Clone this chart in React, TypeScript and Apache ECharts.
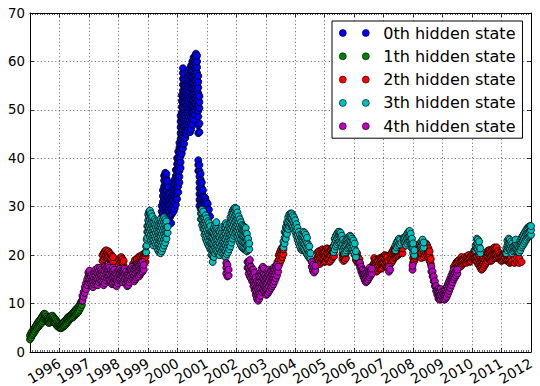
import React, { useEffect, useRef } from 'react';
import * as echarts from 'echarts';

// ---- data ----
// each column: [year, value, value, ...]  -> points at that year
const stateNames = ['0th hidden state', '1th hidden state', '2th hidden state', '3th hidden state', '4th hidden state'];
const stateColors = ['#0000ff', '#008000', '#ff0000', '#00bfbf', '#bf00bf'];
const xMin = 1995;
const xMax = 2012;
const yMin = 0;
const yMax = 70;
const hiddenXLabel = '1995';

const state0Blue: number[][] = [
  [1999.47, 27.8, 29.0, 30.2],
  [1999.51, 28.6, 29.8, 31.0, 32.2, 33.4],
  [1999.55, 29.4, 30.6, 31.8, 33.0, 34.2, 35.4, 36.4],
  [1999.59, 29.0, 30.2, 31.4, 32.6, 33.8, 35.0, 36.2, 37.0],
  [1999.63, 28.6, 29.8, 31.0, 32.2, 33.4, 34.6, 35.8, 36.8],
  [1999.67, 28.2, 29.4, 30.6, 31.8, 33.0, 34.2, 35.2],
  [1999.71, 28.0, 29.2, 30.4, 31.6, 32.8, 34.0],
  [1999.75, 27.8, 29.0, 30.2, 31.4, 32.6],
  [1999.79, 26.6, 28.4, 29.6, 30.8, 32.0],
  [1999.83, 28.6, 29.8, 31.0, 32.2, 33.4],
  [1999.87, 29.0, 30.2, 31.4, 32.6, 33.8, 35.0],
  [1999.91, 29.6, 30.8, 32.0, 33.2, 34.4, 35.6],
  [1999.95, 30.4, 31.6, 32.8, 34.0, 35.2, 36.4, 37.6],
  [1999.99, 31.6, 32.8, 34.0, 35.2, 36.4, 37.6, 38.8, 40.0],
  [2000.03, 33.0, 34.2, 35.4, 36.6, 37.8, 39.0, 40.2, 41.4],
  [2000.07, 35.0, 36.2, 37.4, 38.6, 39.8, 41.0, 42.2, 43.2],
  [2000.11, 38.0, 39.2, 40.4, 41.6, 42.8, 44.0, 45.2, 46.4, 47.6, 48.8],
  [2000.15, 41.0, 42.2, 43.4, 44.6, 45.8, 47.0, 48.2, 49.4, 50.6, 51.8, 53.0],
  [2000.19, 42.0, 43.2, 44.4, 45.6, 46.8, 48.0, 49.2, 50.4, 51.6, 52.8, 54.0, 55.2, 56.4, 57.6, 58.6],
  [2000.23, 43.0, 44.2, 45.4, 46.6, 47.8, 49.0, 50.2, 51.4, 52.6, 53.8, 55.0, 56.2, 57.4],
  [2000.27, 44.2, 45.4, 46.6, 47.8, 49.0, 50.2, 51.4, 52.6, 53.8, 55.0],
  [2000.31, 45.0, 46.2, 47.4, 48.6, 49.8, 51.0, 52.2, 53.4, 54.6, 55.8],
  [2000.35, 45.6, 46.8, 48.0, 49.2, 50.4, 51.6, 52.8, 54.0, 55.2, 56.4, 57.4],
  [2000.39, 46.2, 47.4, 48.6, 49.8, 51.0, 52.2, 53.4, 54.6, 55.8, 57.0, 58.2],
  [2000.43, 45.4, 46.6, 47.8, 49.0, 50.2, 51.4, 52.6, 53.8, 55.0, 56.2, 57.4, 58.6],
  [2000.47, 46.0, 47.2, 48.4, 49.6, 50.8, 52.0, 53.2, 54.4, 55.6, 56.8, 58.0, 59.2],
  [2000.51, 47.0, 48.2, 49.4, 50.6, 51.8, 53.0, 54.2, 55.4, 56.6, 57.8, 59.0, 60.0],
  [2000.55, 48.0, 49.2, 50.4, 51.6, 52.8, 54.0, 55.2, 56.4, 57.6, 58.8, 60.0, 60.8],
  [2000.59, 49.0, 50.2, 51.4, 52.6, 53.8, 55.0, 56.2, 57.4, 58.6, 59.8, 61.0],
  [2000.63, 50.0, 51.2, 52.4, 53.6, 54.8, 56.0, 57.2, 58.4, 59.6, 60.8, 61.6],
  [2000.67, 50.4, 51.6, 52.8, 54.0, 55.2, 56.4, 57.6, 58.8, 60.0, 61.2],
  [2000.71, 45.2, 46.8, 48.6, 49.8, 51.0, 52.2, 53.4, 54.6, 55.8, 57.0],
  [2000.75, 45.4, 47.2, 50.4, 51.6, 52.8],
  [2000.71, 37.4, 38.6, 39.6],
  [2000.75, 30.2, 31.4, 32.6, 33.8, 35.0, 36.2, 37.4, 38.6],
  [2000.79, 29.6, 30.8, 32.0, 33.2, 34.4, 35.6, 36.8],
  [2000.83, 29.0, 30.2, 31.4, 32.6, 33.8, 35.0],
  [2000.87, 28.6, 29.8, 31.0, 32.2, 33.4],
  [2000.91, 28.4, 29.6, 30.8, 32.0],
  [2000.95, 28.4, 29.6, 30.8, 31.8],
  [2000.99, 28.6, 29.8, 31.0],
  [2001.03, 28.4, 29.6, 30.6],
  [2001.07, 28.2, 29.4],
  [2001.11, 28.0],
];

const state1Green: number[][] = [
  [1995.00, 2.6, 3.4], [1995.04, 3.0, 3.9], [1995.08, 3.5, 4.3], [1995.12, 3.8, 4.7],
  [1995.16, 4.2, 5.0], [1995.20, 4.6, 5.4], [1995.24, 4.9, 5.8], [1995.28, 5.2, 6.2],
  [1995.32, 5.5, 6.5], [1995.36, 5.8, 6.8], [1995.40, 6.0, 7.2], [1995.44, 6.4, 7.6],
  [1995.48, 6.8, 7.9], [1995.52, 6.9, 7.8], [1995.56, 6.5, 7.3], [1995.60, 6.2, 7.0],
  [1995.64, 6.0, 6.8], [1995.68, 6.1, 7.1], [1995.72, 6.4, 7.4], [1995.76, 6.6, 7.5],
  [1995.80, 6.3, 7.2], [1995.84, 6.0, 6.9], [1995.88, 5.7, 6.6], [1995.92, 5.4, 6.3],
  [1995.96, 5.2, 6.0], [1996.00, 5.0, 5.8], [1996.04, 4.9, 5.6], [1996.08, 5.0, 5.8],
  [1996.12, 5.2, 6.0], [1996.16, 5.4, 6.2], [1996.20, 5.6, 6.5], [1996.24, 5.9, 6.8],
  [1996.28, 6.2, 7.1], [1996.32, 6.5, 7.3], [1996.36, 6.8, 7.5], [1996.40, 7.0, 7.7],
  [1996.44, 7.1, 7.9], [1996.48, 7.3, 8.2], [1996.52, 7.6, 8.5], [1996.56, 7.8, 8.8],
  [1996.60, 8.0, 9.0], [1996.64, 8.3, 9.3], [1996.68, 8.7, 9.7], [1996.72, 9.2, 10.2],
  [1996.76, 9.7, 10.6],
];

const state2Red: number[][] = [
  [1997.46, 18.8, 20.0], [1997.50, 19.2, 20.4], [1997.54, 19.6, 20.8], [1997.58, 19.8, 21.0],
  [1997.62, 19.4, 20.6], [1997.66, 19.6, 20.8], [1997.70, 19.2, 20.4], [1997.74, 19.0, 20.2],
  [1997.78, 18.8, 19.8], [1997.82, 18.6, 19.6],
  [1998.02, 18.0, 19.0], [1998.06, 18.4, 19.4], [1998.10, 18.8, 19.6], [1998.14, 18.2, 19.2],
  [1998.18, 17.8, 18.8],
  [1998.50, 18.2], [1998.56, 18.0, 19.0], [1998.62, 18.4, 19.2], [1998.68, 18.6, 19.6],
  [1998.74, 18.8, 19.8], [1998.80, 19.0, 20.0], [1998.84, 18.8, 19.6], [1998.88, 18.6, 19.6, 20.4],
  [1998.92, 18.6, 19.6, 20.4],
  [2003.36, 16.8, 18.0], [2003.40, 17.4, 18.6], [2003.44, 17.8, 19.0, 20.0], [2003.48, 18.4, 19.6, 20.6],
  [2003.52, 19.0, 20.2, 21.2], [2003.56, 19.6, 20.8, 21.6], [2003.60, 20.2, 21.2],
  [2004.72, 17.8, 19.0], [2004.76, 18.4, 19.6, 20.6], [2004.80, 18.6, 19.8, 20.8], [2004.84, 18.2, 19.4, 20.4],
  [2004.88, 18.6, 19.8, 21.0], [2004.92, 19.0, 20.2, 21.2], [2004.96, 18.8, 20.0, 21.0], [2005.00, 18.6, 19.8, 20.8],
  [2005.04, 18.8, 20.0, 21.2], [2005.08, 19.2, 20.4, 21.4], [2005.12, 19.0, 20.2, 21.2], [2005.16, 18.6, 19.8, 20.8],
  [2005.20, 18.8, 20.0, 21.0], [2005.24, 19.2, 20.4, 21.4], [2005.28, 19.6, 20.6, 21.6], [2005.32, 19.8, 20.8],
  [2005.60, 19.2, 20.2], [2005.64, 18.8, 19.8], [2005.68, 19.0, 20.0], [2005.72, 19.4, 20.4],
  [2006.06, 19.0, 20.0], [2006.10, 18.6, 19.6, 20.4], [2006.14, 18.4, 19.4], [2006.18, 18.2, 19.2],
  [2006.64, 17.0, 18.0], [2006.68, 17.4, 18.4, 19.4], [2006.72, 17.0, 18.0, 19.0], [2006.76, 16.6, 17.6, 18.6],
  [2006.80, 16.8, 17.8, 18.8], [2006.84, 17.2, 18.2, 19.2], [2006.88, 17.4, 18.4, 19.4], [2006.92, 17.2, 18.2, 19.4],
  [2006.96, 17.4, 18.4, 19.6], [2007.00, 17.8, 18.8, 19.8], [2007.04, 18.0, 19.0, 20.0], [2007.08, 17.8, 18.8, 19.8],
  [2007.12, 17.6, 18.6, 19.6], [2007.16, 17.8, 18.8], [2007.24, 18.2, 19.2, 20.2], [2007.28, 18.6, 19.6, 20.6],
  [2007.32, 19.0, 20.0, 21.0], [2007.36, 19.4, 20.4, 21.4], [2007.40, 19.6, 20.6, 21.6], [2007.44, 19.8, 20.8, 21.8],
  [2007.48, 20.0, 21.0, 22.0], [2007.52, 20.2, 21.2], [2007.56, 20.4, 21.4], [2007.60, 20.6, 21.6],
  [2007.64, 20.4, 21.4],
  [2008.00, 18.4, 19.4], [2008.04, 18.8, 19.8], [2008.08, 19.4, 20.4, 21.4], [2008.12, 19.8, 20.8, 21.8],
  [2008.16, 20.2, 21.2, 22.2], [2008.20, 20.0, 21.0, 22.0], [2008.24, 19.6, 20.6, 21.6], [2008.28, 19.4, 20.4],
  [2008.36, 19.6, 20.6], [2008.40, 20.0, 21.0, 22.0], [2008.44, 20.4, 21.4, 22.4], [2008.48, 20.0, 21.0, 22.0],
  [2008.52, 19.4, 20.4, 21.4], [2008.56, 18.8, 19.8, 20.8], [2008.60, 18.2, 19.2],
  [2009.38, 17.6], [2009.44, 17.4, 18.2], [2009.48, 17.6, 18.6], [2009.52, 17.8, 18.8],
  [2009.56, 18.0, 19.0], [2009.60, 17.6, 18.6], [2009.64, 17.8, 18.8, 19.6], [2009.68, 18.2, 19.2],
  [2009.72, 18.4, 19.4], [2009.76, 18.6, 19.6], [2009.80, 18.4, 19.4], [2009.84, 18.8, 19.8],
  [2009.88, 19.0, 20.0], [2009.92, 18.6, 19.6], [2009.96, 18.8, 19.8], [2010.00, 19.2, 20.2],
  [2010.04, 19.4, 20.4], [2010.08, 19.2, 20.2, 21.0], [2010.12, 19.0, 20.0], [2010.16, 18.8, 19.8],
  [2010.20, 18.2, 19.2, 20.2], [2010.24, 18.0, 19.0, 20.0], [2010.28, 17.4, 18.4, 19.4], [2010.32, 17.0, 18.0, 19.0],
  [2010.36, 17.2, 18.2, 19.2], [2010.40, 17.6, 18.6, 19.6], [2010.44, 18.0, 19.0, 20.0], [2010.48, 18.4, 19.4, 20.4],
  [2010.52, 18.8, 19.8, 20.8], [2010.56, 19.2, 20.2, 21.0], [2010.60, 19.0, 20.0, 21.0], [2010.64, 18.8, 19.8, 20.8],
  [2010.68, 19.0, 20.0, 21.0], [2010.72, 19.4, 20.4, 21.4], [2010.76, 19.6, 20.6, 21.6], [2010.80, 19.4, 20.4, 21.4],
  [2010.84, 19.6, 20.6, 21.6], [2010.88, 19.8, 20.8], [2010.92, 19.4, 20.4], [2010.96, 19.0, 20.0],
  [2011.00, 18.8, 19.8], [2011.04, 19.0, 20.0], [2011.08, 19.2, 20.2], [2011.12, 19.4, 20.4],
  [2011.16, 19.0, 20.0], [2011.20, 18.8, 19.8], [2011.24, 18.6, 19.6], [2011.28, 18.4, 19.4],
  [2011.32, 18.6, 19.6], [2011.36, 18.8], [2011.44, 18.4, 19.4], [2011.52, 18.6, 19.6],
  [2011.60, 18.4, 19.4], [2011.68, 18.6],
];

const state3Cyan: number[][] = [
  [1998.94, 20.6, 21.8], [1998.96, 22.0, 23.2], [1998.98, 23.6, 24.8, 26.0],
  [1999.01, 24.8, 26.0, 27.2, 28.4], [1999.04, 24.4, 25.6, 26.8, 28.0, 29.0],
  [1999.07, 23.8, 25.0, 26.2, 27.4, 28.6, 29.2], [1999.11, 23.0, 24.2, 25.4, 26.6, 27.8, 28.6],
  [1999.15, 22.4, 23.6, 24.8, 26.0, 27.2, 28.0], [1999.19, 22.0, 23.2, 24.4, 25.6, 26.8],
  [1999.23, 22.6, 23.8, 25.0, 26.2, 27.4], [1999.27, 22.2, 23.4, 24.6, 25.8, 27.0],
  [1999.31, 21.6, 22.8, 24.0, 25.2, 26.4], [1999.35, 21.0, 22.2, 23.4, 24.6, 25.8, 27.0],
  [1999.39, 20.6, 21.8, 23.0, 24.2, 25.4, 26.6], [1999.43, 20.4, 21.6, 22.8, 24.0, 25.2, 26.4, 27.4],
  [1999.47, 20.8, 22.0, 23.2, 24.4, 25.6, 26.8], [1999.51, 21.4, 22.6, 23.8, 25.0, 26.2, 27.4],
  [1999.55, 22.0, 23.2, 24.4, 25.6, 26.8, 27.8], [1999.59, 22.6, 23.8, 25.0, 26.2, 27.4],
  [1999.63, 23.4, 24.6, 25.8, 27.0], [1999.67, 24.6, 25.8],
  [2000.80, 27.4, 28.6], [2000.84, 26.2, 27.4, 28.6, 29.4], [2000.88, 25.4, 26.6, 27.8, 29.0],
  [2000.92, 24.2, 25.4, 26.6, 27.8], [2000.96, 23.4, 24.6, 25.8, 27.0, 28.2],
  [2001.00, 22.8, 24.0, 25.2, 26.4, 27.6], [2001.04, 22.2, 23.4, 24.6, 25.8, 27.0],
  [2001.08, 21.8, 23.0, 24.2, 25.4, 26.6], [2001.12, 21.2, 22.4, 23.6, 24.8, 26.0],
  [2001.16, 20.0, 21.2, 22.4, 23.6, 24.8], [2001.20, 18.6, 19.8, 21.0, 22.2, 23.4, 24.6],
  [2001.24, 19.6, 20.8, 22.0, 23.2, 24.4, 25.6], [2001.28, 20.4, 21.6, 22.8, 24.0, 25.2, 26.2],
  [2001.32, 21.0, 22.2, 23.4, 24.6, 25.8, 26.8], [2001.36, 20.6, 21.8, 23.0, 24.2, 25.4],
  [2001.40, 20.2, 21.4, 22.6, 23.8, 25.0], [2001.44, 20.0, 21.2, 22.4, 23.6, 24.8],
  [2001.48, 20.6, 21.8, 23.0, 24.2, 25.4], [2001.52, 21.0, 22.2, 23.4, 24.6, 25.8],
  [2001.56, 20.2, 21.4, 22.6, 23.8], [2001.60, 19.8, 21.0, 22.2, 23.4, 24.6, 25.8],
  [2001.64, 19.6, 20.8, 22.0, 23.2, 24.4, 25.6, 26.6], [2001.68, 20.2, 21.4, 22.6, 23.8, 25.0, 26.2],
  [2001.72, 20.6, 21.8, 23.0, 24.2, 25.4], [2001.76, 21.2, 22.4, 23.6, 24.8, 26.0],
  [2001.80, 21.8, 23.0, 24.2, 25.4, 26.6, 27.8], [2001.84, 22.6, 23.8, 25.0, 26.2, 27.4, 28.6],
  [2001.88, 23.4, 24.6, 25.8, 27.0, 28.2, 29.2], [2001.92, 24.0, 25.2, 26.4, 27.6, 28.8, 29.6],
  [2001.96, 24.4, 25.6, 26.8, 28.0, 29.2, 29.8], [2002.00, 24.8, 26.0, 27.2, 28.4, 29.6],
  [2002.04, 24.0, 25.2, 26.4, 27.6, 28.8], [2002.08, 23.2, 24.4, 25.6, 26.8, 28.0],
  [2002.12, 22.6, 23.8, 25.0, 26.2, 27.4], [2002.16, 22.0, 23.2, 24.4, 25.6, 26.8],
  [2002.20, 21.6, 22.8, 24.0, 25.2, 26.2], [2002.24, 21.4, 22.6, 23.8, 25.0, 26.0],
  [2002.28, 21.2, 22.4, 23.6, 24.8, 25.8], [2002.32, 21.0, 22.2, 23.4, 24.6, 25.6],
  [2002.36, 20.8, 22.0, 23.2, 24.4], [2002.40, 21.0, 22.2, 23.4], [2002.44, 21.2, 22.4],
  [2003.60, 21.6, 22.8], [2003.64, 22.4, 23.6, 24.8], [2003.68, 23.4, 24.6, 25.8],
  [2003.72, 24.4, 25.6, 26.8], [2003.76, 25.4, 26.6, 27.8], [2003.80, 26.0, 27.2, 28.4],
  [2003.84, 26.4, 27.6, 28.6], [2003.88, 26.2, 27.4, 28.6], [2003.92, 25.8, 27.0, 28.2],
  [2003.96, 25.4, 26.6, 27.8], [2004.00, 24.8, 26.0, 27.2], [2004.04, 24.0, 25.2, 26.4],
  [2004.08, 23.2, 24.4, 25.6], [2004.12, 22.4, 23.6, 24.8], [2004.16, 21.8, 23.0, 24.2],
  [2004.20, 21.2, 22.4, 23.6], [2004.24, 21.0, 22.2, 23.4, 24.4], [2004.28, 21.2, 22.4, 23.6, 24.8],
  [2004.32, 21.0, 22.2, 23.4, 24.6], [2004.36, 20.6, 21.8, 23.0, 24.2], [2004.40, 20.2, 21.4, 22.6, 23.6],
  [2004.44, 19.8, 21.0, 22.2], [2004.48, 19.4, 20.6, 21.8], [2004.52, 19.2, 20.4],
  [2005.30, 20.6, 21.8], [2005.34, 21.2, 22.4, 23.4], [2005.38, 21.8, 23.0, 24.0],
  [2005.42, 22.2, 23.4, 24.4], [2005.46, 22.6, 23.8, 24.8], [2005.50, 22.8, 24.0, 24.8],
  [2005.54, 22.4, 23.6, 24.6], [2005.58, 21.8, 23.0, 24.0], [2005.62, 21.0, 22.2, 23.2],
  [2005.66, 20.4, 21.6], [2005.70, 20.6, 21.8, 22.8], [2005.74, 21.0, 22.2, 23.2],
  [2005.78, 21.4, 22.6, 23.6], [2005.82, 21.6, 22.8, 23.8], [2005.86, 21.8, 23.0, 24.0],
  [2005.90, 21.6, 22.8, 23.8], [2005.94, 21.2, 22.4, 23.4], [2005.98, 20.6, 21.8, 23.0],
  [2006.02, 20.0, 21.2, 22.4], [2006.06, 19.6, 20.8],
  [2007.40, 21.0, 22.0], [2007.44, 21.6, 22.6], [2007.48, 22.0, 23.0], [2007.52, 22.4, 23.4],
  [2007.56, 22.2, 23.2], [2007.60, 22.6], [2007.68, 22.8, 23.6], [2007.72, 22.6, 23.6],
  [2007.76, 22.0, 23.0, 24.0], [2007.80, 22.4, 23.4, 24.4], [2007.84, 22.8, 23.8, 24.8],
  [2007.88, 23.0, 24.0, 25.0], [2007.92, 22.4, 23.4, 24.4], [2007.96, 21.4, 22.4, 23.4],
  [2008.00, 20.4, 21.4, 22.4], [2008.04, 20.0, 21.0],
  [2008.28, 21.8, 22.8], [2008.32, 21.4, 22.4, 23.2], [2008.36, 21.6, 22.6],
  [2010.12, 21.0, 22.0], [2010.16, 21.4, 22.4, 23.4], [2010.20, 21.2, 22.2, 23.2],
  [2010.24, 20.8, 21.8, 22.8], [2010.28, 20.4, 21.4],
  [2011.16, 20.4, 21.4], [2011.20, 21.0, 22.0, 23.0], [2011.24, 21.4, 22.4, 23.4],
  [2011.28, 21.2, 22.2, 23.2], [2011.32, 20.8, 21.8, 22.8], [2011.36, 20.4, 21.4, 22.4],
  [2011.40, 20.8, 21.8], [2011.44, 21.0, 22.0], [2011.48, 21.2, 22.2, 23.2], [2011.52, 21.0, 22.0],
  [2011.56, 20.8, 21.8], [2011.60, 20.6, 21.6], [2011.64, 21.0, 22.0, 23.0],
  [2011.68, 21.6, 22.6, 23.6], [2011.72, 22.0, 23.0, 24.0], [2011.76, 22.4, 23.4, 24.4],
  [2011.80, 22.8, 23.8, 24.8], [2011.84, 23.2, 24.2, 25.2], [2011.88, 23.6, 24.6, 25.6],
  [2011.92, 23.8, 24.8, 25.8], [2011.96, 24.0, 25.0, 26.0], [2012.00, 24.2, 25.2, 26.0],
];

const state4Magenta: number[][] = [
  [1996.78, 10.6, 11.6], [1996.82, 11.4, 12.4], [1996.86, 12.2, 13.4], [1996.90, 13.0, 14.2],
  [1996.94, 13.8, 15.0], [1996.98, 14.4, 15.6, 16.4], [1997.02, 14.8, 16.0, 16.8], [1997.06, 14.4, 15.6],
  [1997.10, 13.6, 14.8, 16.0], [1997.14, 13.4, 14.6, 15.6], [1997.18, 14.0, 15.2, 16.4], [1997.22, 14.6, 15.8, 17.0],
  [1997.26, 14.0, 15.2, 16.4], [1997.30, 13.8, 15.0, 16.2, 17.4], [1997.34, 14.4, 15.6, 16.8], [1997.38, 15.0, 16.2, 17.4],
  [1997.42, 14.6, 15.8, 17.0], [1997.46, 14.2, 15.4, 16.6], [1997.50, 13.8, 15.0, 16.2], [1997.54, 14.2, 15.4, 16.6, 17.6],
  [1997.58, 14.8, 16.0, 17.2], [1997.62, 15.2, 16.4, 17.6], [1997.66, 15.6, 16.8, 17.8], [1997.70, 15.0, 16.2, 17.4],
  [1997.74, 14.4, 15.6, 16.8], [1997.78, 14.0, 15.2, 16.4], [1997.82, 14.2, 15.4, 16.6, 17.4], [1997.86, 14.6, 15.8, 17.0],
  [1997.90, 13.8, 15.0, 16.2], [1997.94, 13.6, 14.8, 16.0], [1997.98, 14.2, 15.4, 16.6], [1998.02, 14.8, 16.0, 17.0],
  [1998.06, 15.0, 16.2, 17.2], [1998.10, 14.6, 15.8, 16.8], [1998.14, 14.4, 15.6, 16.6], [1998.18, 14.8, 16.0, 17.0],
  [1998.22, 15.0, 16.2, 17.2], [1998.26, 14.2, 15.4, 16.6], [1998.30, 13.6, 14.8, 16.0], [1998.34, 13.8, 15.0, 16.2],
  [1998.38, 14.4, 15.6, 16.8], [1998.42, 15.0, 16.2, 17.2], [1998.46, 15.4, 16.6, 17.6], [1998.50, 15.0, 16.2, 17.2],
  [1998.54, 14.6, 15.8, 17.0], [1998.58, 15.0, 16.2, 17.4], [1998.62, 15.4, 16.6, 17.6], [1998.66, 15.8, 17.0, 18.0],
  [1998.70, 15.6, 16.8, 17.8], [1998.74, 16.0, 17.2, 18.2], [1998.78, 16.4, 17.4, 18.4], [1998.82, 16.6, 17.6, 18.6],
  [1998.86, 17.0, 18.0],
  [2001.66, 16.2, 17.4, 18.4], [2001.70, 15.6, 16.8, 18.0], [2001.74, 15.8, 17.0],
  [2002.38, 17.4, 18.6], [2002.42, 16.2, 17.4, 18.6], [2002.46, 15.6, 16.8, 18.0, 19.0], [2002.50, 15.2, 16.4, 17.6],
  [2002.54, 14.6, 15.8, 17.0], [2002.58, 13.6, 14.8, 16.0, 17.0], [2002.62, 12.8, 14.0, 15.2, 16.4], [2002.66, 11.8, 13.0, 14.2, 15.4],
  [2002.70, 11.0, 12.2, 13.4, 14.6], [2002.74, 10.6, 11.8, 13.0, 14.2], [2002.78, 11.0, 12.2, 13.4, 14.6, 15.8], [2002.82, 11.6, 12.8, 14.0, 15.2, 16.4],
  [2002.86, 12.4, 13.6, 14.8, 16.0, 17.2], [2002.90, 12.8, 14.0, 15.2, 16.4, 17.6], [2002.94, 12.6, 13.8, 15.0, 16.2, 17.2], [2002.98, 12.2, 13.4, 14.6, 15.8],
  [2003.02, 11.8, 13.0, 14.2, 15.4], [2003.06, 12.0, 13.2, 14.4, 15.6, 16.6], [2003.10, 12.4, 13.6, 14.8, 16.0, 17.0], [2003.14, 12.8, 14.0, 15.2, 16.4],
  [2003.18, 13.2, 14.4, 15.6, 16.8], [2003.22, 13.6, 14.8, 16.0, 17.0], [2003.26, 14.0, 15.2, 16.4, 17.4], [2003.30, 14.6, 15.8, 17.0],
  [2003.34, 15.2, 16.4, 17.6], [2003.38, 15.8, 17.0, 18.0], [2003.42, 16.6, 17.6],
  [2004.56, 17.6, 18.6], [2004.60, 16.8, 18.0], [2004.64, 16.4, 17.4], [2004.68, 16.8, 17.8],
  [2006.20, 17.4, 18.4], [2006.24, 16.6, 17.6], [2006.28, 16.0, 17.0], [2006.32, 15.4, 16.4],
  [2006.36, 14.8, 15.8, 16.8], [2006.40, 14.4, 15.4, 16.4], [2006.44, 14.6, 15.6, 16.6], [2006.48, 15.0, 16.0, 17.0],
  [2006.52, 15.4, 16.4, 17.4], [2006.56, 15.8, 16.8], [2006.60, 16.2, 17.2],
  [2007.18, 16.6, 17.6], [2007.22, 17.0],
  [2007.98, 17.0, 17.8],
  [2008.62, 16.6, 17.6], [2008.66, 15.6, 16.6], [2008.70, 14.6, 15.6], [2008.74, 13.6, 14.6],
  [2008.78, 12.6, 13.6], [2008.82, 11.8, 12.8], [2008.86, 11.0, 12.0, 13.0], [2008.90, 10.8, 11.8, 12.8],
  [2008.94, 11.0, 12.0, 13.0], [2008.98, 11.4, 12.4], [2009.02, 11.0, 12.0], [2009.06, 10.8, 11.8, 12.8],
  [2009.10, 11.0, 12.0, 13.0], [2009.14, 11.4, 12.4, 13.4], [2009.18, 12.0, 13.0, 14.0], [2009.22, 12.6, 13.6, 14.6],
  [2009.26, 13.2, 14.2, 15.2], [2009.30, 13.8, 14.8, 15.8], [2009.34, 14.4, 15.4, 16.4], [2009.38, 15.0, 16.0, 17.0],
  [2009.42, 15.4, 16.4], [2009.46, 15.8, 16.8], [2009.50, 16.2, 17.0],
];

const stateColumns = [state0Blue, state1Green, state2Red, state3Cyan, state4Magenta];

const toPoints = (cols: number[][]) =>
  cols.flatMap(([x, ...ys]) => ys.map((y) => [x, y]));

const FONT = 'DejaVu Sans';
const twoDots =
  'path://M0,3.5A3.5,3.5,0,1,1,7,3.5A3.5,3.5,0,1,1,0,3.5ZM23,3.5A3.5,3.5,0,1,1,30,3.5A3.5,3.5,0,1,1,23,3.5Z';

export default function App() {
  const ref = useRef<HTMLDivElement>(null);
  useEffect(() => {
    if (!ref.current) return;
    const chart = echarts.init(ref.current, undefined, { renderer: 'svg' });
    const grid = {
      left: 30, right: 9, top: 13, bottom: 34,
      containLabel: false, outerBoundsMode: 'none',
    };
    const gridLine = { show: true, lineStyle: { color: '#555', width: 0.8, type: [1.2, 2.4] } };
    const axisLine = { show: true, onZero: false, lineStyle: { color: '#000', width: 1 } };
    const xCommon = {
      type: 'value', min: xMin, max: xMax, interval: 1,
      axisLine,
      axisTick: { show: true, inside: true, length: 4, lineStyle: { color: '#000', width: 0.8 } },
      minorTick: { show: true, splitNumber: 12, length: 2, lineStyle: { color: '#000', width: 0.6 } },
      minorSplitLine: { show: false },
    };
    const yCommon = {
      type: 'value', min: yMin, max: yMax, interval: 10,
      axisLine,
      axisTick: { show: true, inside: true, length: 4, lineStyle: { color: '#000', width: 0.8 } },
    };
    const option: any = {
      animation: false,
      backgroundColor: '#fff',
      grid,
      xAxis: [
        {
          ...xCommon, position: 'bottom',
          splitLine: gridLine,
          axisLabel: {
            show: true, rotate: 30, margin: 10, color: '#000', fontSize: 14, fontFamily: FONT,
            showMinLabel: true, showMaxLabel: true,
            formatter: (v: number) => (String(Math.round(v)) === hiddenXLabel ? '' : String(Math.round(v))),
          },
        },
        { ...xCommon, position: 'top', splitLine: { show: false }, axisLabel: { show: false } },
      ],
      yAxis: [
        {
          ...yCommon, position: 'left',
          splitLine: gridLine,
          axisLabel: { show: true, margin: 5, color: '#000', fontSize: 13.3, fontFamily: FONT },
        },
        { ...yCommon, position: 'right', splitLine: { show: false }, axisLabel: { show: false } },
      ],
      legend: {
        show: true,
        orient: 'vertical',
        left: 332,
        top: 21,
        padding: [4, 7, 4, 7],
        itemGap: 7.3,
        itemWidth: 30,
        itemHeight: 7,
        icon: twoDots,
        selectedMode: false,
        backgroundColor: '#fff',
        borderColor: '#000',
        borderWidth: 1,
        borderRadius: 0,
        itemStyle: { borderColor: '#000', borderWidth: 0.6 },
        textStyle: { fontSize: 16, fontFamily: FONT, color: '#000', padding: [0, 0, 0, 9] },
        data: stateNames,
      },
      series: stateColumns.map((cols, i) => ({
        name: stateNames[i],
        type: 'scatter',
        xAxisIndex: 0,
        yAxisIndex: 0,
        symbol: 'circle',
        symbolSize: 7,
        data: toPoints(cols),
        itemStyle: { color: stateColors[i], borderColor: '#000', borderWidth: 0.8, opacity: 1 },
        emphasis: { disabled: true },
        clip: true,
        z: 2 + i,
      })),
    };
    chart.setOption(option);
    return () => chart.dispose();
  }, []);
  return (
    <div
      ref={ref}
      style={{ position: 'fixed', left: 0, top: 0, width: 540, height: 386, background: '#fff' }}
    />
  );
}
